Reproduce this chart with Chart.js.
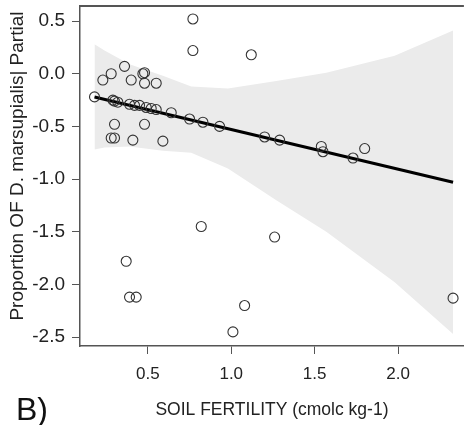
<!DOCTYPE html>
<html>
<head>
<meta charset="utf-8">
<script src="https://cdn.jsdelivr.net/npm/chart.js@4"></script>
<style>
  body { margin: 0; background: #fff; overflow: hidden; }
  #wrap { position: relative; width: 470px; height: 425px; }
  #panel { position: absolute; left: 16px; top: 391px; font: 32px "Liberation Sans", Arial, sans-serif; color: #111; }
</style>
</head>
<body>
<div id="wrap">
  <canvas id="chart" width="470" height="425"></canvas>
  <div id="panel">B)</div>
</div>
<script>
// observed points (partial residuals)
const pointX = [0.18, 0.23, 0.28, 0.36, 0.40, 0.47, 0.48, 0.48, 0.55, 0.30, 0.48, 0.28, 0.30, 0.41, 0.59,
  0.77, 0.77, 1.12, 0.37, 0.39, 0.43, 0.82, 1.01, 1.26, 1.08, 2.33,
  0.29, 0.30, 0.32, 0.39, 0.42, 0.45, 0.49, 0.52, 0.55, 0.64, 0.75, 0.83, 0.93, 1.20, 1.29, 1.54, 1.55, 1.73, 1.80];
const pointY = [-0.22, -0.06, 0.00, 0.07, -0.06, 0.00, 0.01, -0.09, -0.09, -0.48, -0.48, -0.61, -0.61, -0.63, -0.64,
  0.52, 0.22, 0.18, -1.78, -2.12, -2.12, -1.45, -2.45, -1.55, -2.20, -2.13,
  -0.25, -0.26, -0.27, -0.29, -0.30, -0.30, -0.32, -0.33, -0.34, -0.37, -0.43, -0.46, -0.50, -0.60, -0.63, -0.69, -0.74, -0.80, -0.71];

// fitted line
const fitX = [0.18, 2.33];
const fitY = [-0.22, -1.03];

// confidence band
const bandX = [0.18, 0.24, 0.39, 0.59, 0.76, 0.98, 1.27, 1.57, 1.98, 2.33];
const bandUpper = [0.28, 0.22, 0.09, -0.02, -0.12, -0.14, -0.07, 0.01, 0.17, 0.41];
const bandLower = [-0.72, -0.70, -0.69, -0.73, -0.75, -0.90, -1.20, -1.50, -1.98, -2.47];

const xTicks = [0.5, 1.0, 1.5, 2.0];
const yTicks = [-2.5, -2.0, -1.5, -1.0, -0.5, 0.0, 0.5];

const yTitle = 'Proportion OF D. marsupialis| Partial';

const xy = (xs, ys) => xs.map((x, i) => ({ x: x, y: ys[i] }));
const family = '"Liberation Sans", Arial, sans-serif';

// top border of the plot box + y title
const frame = {
  id: 'frame',
  afterDraw(chart) {
    const { ctx, chartArea } = chart;
    ctx.save();
    ctx.strokeStyle = '#555';
    ctx.lineWidth = 2;
    ctx.beginPath();
    ctx.moveTo(chartArea.left, chartArea.top);
    ctx.lineTo(chartArea.right, chartArea.top);
    ctx.stroke();

    ctx.translate(18, (chartArea.top + chartArea.bottom) / 2 - 10);
    ctx.rotate(-Math.PI / 2);
    ctx.fillStyle = '#222';
    ctx.font = '19px ' + family;
    ctx.textAlign = 'center';
    ctx.textBaseline = 'middle';
    ctx.fillText(yTitle, 0, 0);
    ctx.restore();
  },
};

new Chart(document.getElementById('chart'), {
  type: 'scatter',
  data: {
    datasets: [
      {
        data: xy(pointX, pointY),
        pointRadius: 5,
        pointBorderWidth: 1.1,
        pointBorderColor: '#333',
        pointBackgroundColor: 'rgba(0,0,0,0)',
        order: 0,
      },
      {
        data: xy(fitX, fitY),
        showLine: true,
        borderColor: '#000',
        borderWidth: 3,
        pointRadius: 0,
        order: 1,
      },
      {
        data: xy(bandX, bandLower),
        showLine: true,
        borderWidth: 0,
        pointRadius: 0,
        order: 3,
      },
      {
        data: xy(bandX, bandUpper),
        showLine: true,
        borderWidth: 0,
        pointRadius: 0,
        fill: '-1',
        backgroundColor: '#ebebeb',
        order: 2,
      },
    ],
  },
  options: {
    responsive: false,
    animation: false,
    layout: { padding: { top: 5, left: 0, right: 0, bottom: 0 } },
    plugins: { legend: { display: false }, tooltip: { enabled: false } },
    scales: {
      x: {
        min: 0.093,
        max: 2.395,
        afterFit: (scale) => {
          scale.height = 79;
          scale.paddingLeft = 0;
          scale.paddingRight = 0;
        },
        afterBuildTicks: (scale) => { scale.ticks = xTicks.map((v) => ({ value: v })); },
        ticks: { color: '#222', font: { family: family, size: 17 }, padding: 10, callback: (v) => v.toFixed(1), autoSkip: false, maxRotation: 0 },
        grid: { drawOnChartArea: false, tickLength: 8, color: '#555' },
        border: { color: '#555', width: 1.5 },
        title: {
          display: true,
          text: 'SOIL FERTILITY (cmolc kg-1)',
          color: '#222',
          font: { family: family, size: 17.5 },
          padding: { top: 8 },
        },
      },
      y: {
        min: -2.584,
        max: 0.642,
        afterFit: (scale) => {
          scale.width = 80;
          scale.paddingTop = 0;
          scale.paddingBottom = 0;
        },
        afterBuildTicks: (scale) => { scale.ticks = yTicks.map((v) => ({ value: v })); },
        ticks: { color: '#222', font: { family: family, size: 19 }, padding: 7, callback: (v) => v.toFixed(1), autoSkip: false },
        grid: { drawOnChartArea: false, tickLength: 8, color: '#555' },
        border: { color: '#555', width: 1.5 },
      },
    },
  },
  plugins: [frame],
});
</script>
</body>
</html>
